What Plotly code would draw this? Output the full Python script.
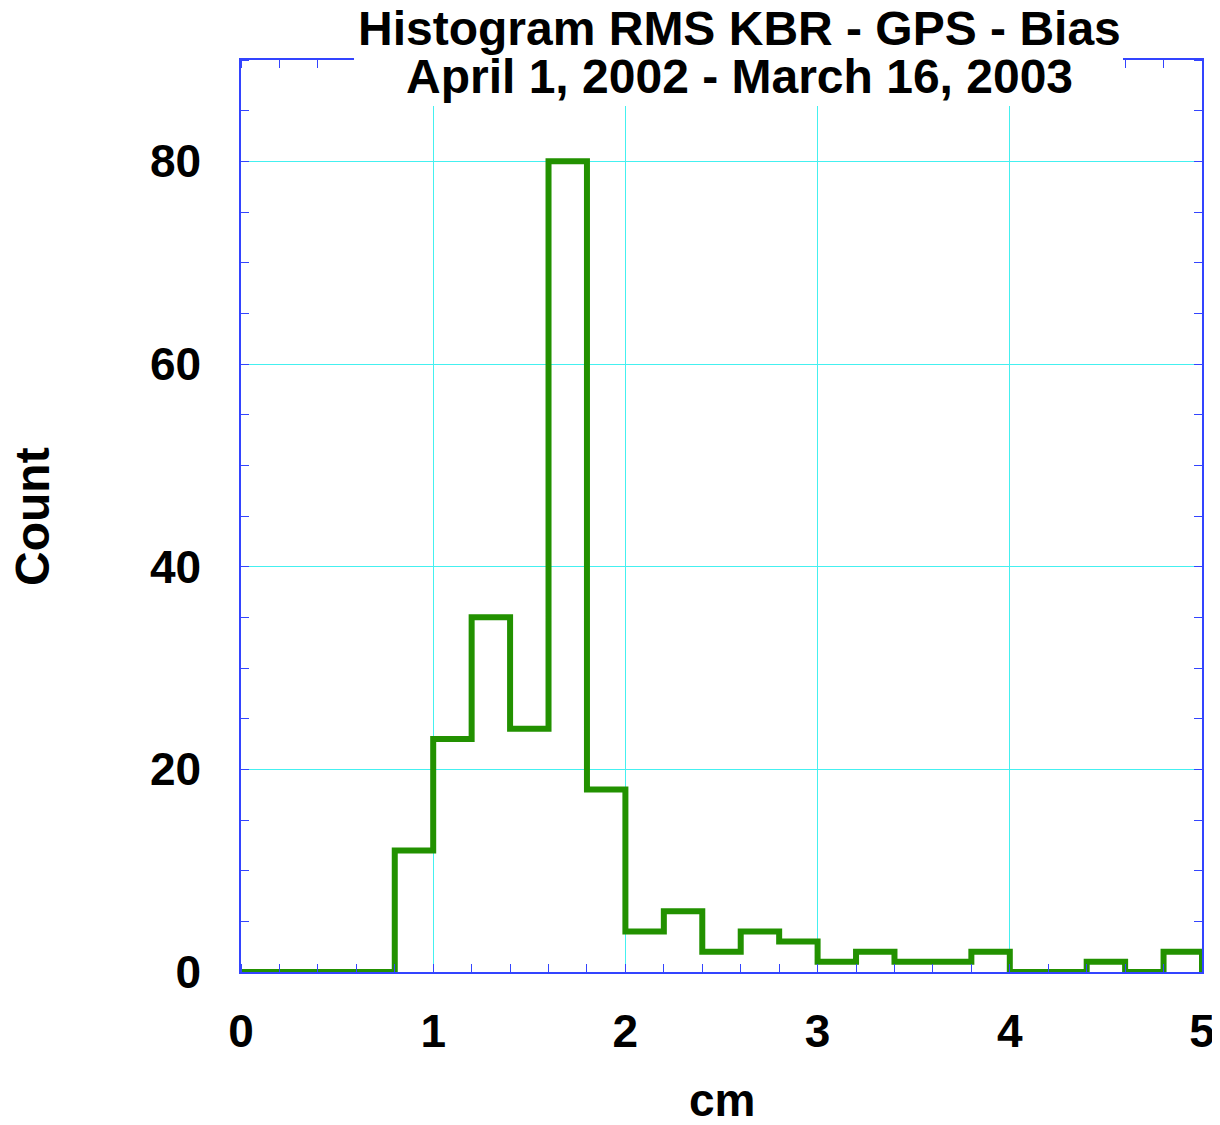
import plotly.graph_objects as go

# histogram of RMS (cm), bins of 0.2 cm from 0 to 5
bin_edges = [0.0, 0.2, 0.4, 0.6, 0.8, 1.0, 1.2, 1.4, 1.6, 1.8, 2.0, 2.2, 2.4,
             2.6, 2.8, 3.0, 3.2, 3.4, 3.6, 3.8, 4.0, 4.2, 4.4, 4.6, 4.8, 5.0]
counts = [0, 0, 0, 0, 12, 23, 35, 24, 80, 18, 4, 6, 2,
          4, 3, 1, 2, 1, 1, 2, 0, 0, 1, 0, 2]

title_lines = ["Histogram RMS KBR - GPS - Bias", "April 1, 2002 - March 16, 2003"]
x_ticks = [0, 1, 2, 3, 4, 5]
y_ticks = [0, 20, 40, 60, 80]

FONT = "Liberation Sans, Arial, Helvetica, sans-serif"
AXIS_BLUE = "#3344ff"
GRID_CYAN = "#44f0f0"
GREEN = "#229100"

fig = go.Figure()
fig.add_trace(go.Scatter(
    x=bin_edges,
    y=counts + [0],
    mode="lines",
    line=dict(shape="hv", color=GREEN, width=6),
    showlegend=False,
    cliponaxis=False,
))

axis_common = dict(
    showline=True, linecolor=AXIS_BLUE, linewidth=1.5, mirror="allticks",
    showgrid=True, gridcolor=GRID_CYAN, gridwidth=1,
    zeroline=False, ticks="", ticklen=0, automargin=False,
    tickfont=dict(family=FONT, size=46, color="black", weight="bold"),
)

fig.update_xaxes(
    range=[0, 5], tickvals=x_ticks, ticklabelstandoff=18,
    minor=dict(dtick=0.2, ticks="inside", ticklen=8, tickcolor=AXIS_BLUE, showgrid=False),
    **axis_common,
)
fig.update_yaxes(
    range=[0, 90], tickvals=y_ticks, ticklabelstandoff=29,
    minor=dict(dtick=5, ticks="inside", ticklen=8, tickcolor=AXIS_BLUE, showgrid=False),
    **axis_common,
)

# white box behind title that interrupts the top frame
fig.add_shape(type="rect", xref="paper", yref="paper",
              x0=0.1176, x1=0.9178, y0=0.9496, y1=1.1,
              fillcolor="white", line_width=0, layer="above")

for txt, yp in zip(title_lines, [1.034, 0.982]):
    fig.add_annotation(text=txt, xref="paper", yref="paper", x=0.5185, y=yp,
                       xanchor="center", yanchor="middle", showarrow=False,
                       font=dict(family=FONT, size=48, color="black", weight="bold"))

# axis titles
fig.add_annotation(text="Count", xref="paper", yref="paper", x=-0.2164, y=0.499,
                   xanchor="center", yanchor="middle", textangle=-90, showarrow=False,
                   font=dict(family=FONT, size=48, color="black", weight="bold"))
fig.add_annotation(text="cm", xref="paper", yref="paper", x=0.5, y=-0.14,
                   xanchor="center", yanchor="middle", showarrow=False,
                   font=dict(family=FONT, size=46, color="black", weight="bold"))

# page body adds an 8px margin, so the figure is 8px smaller each way
fig.update_layout(
    width=1212, height=1117,
    margin=dict(l=233, r=18, t=52, b=153),
    plot_bgcolor="white", paper_bgcolor="white",
    font=dict(family=FONT, color="black"),
)
fig.write_html("out.html")
